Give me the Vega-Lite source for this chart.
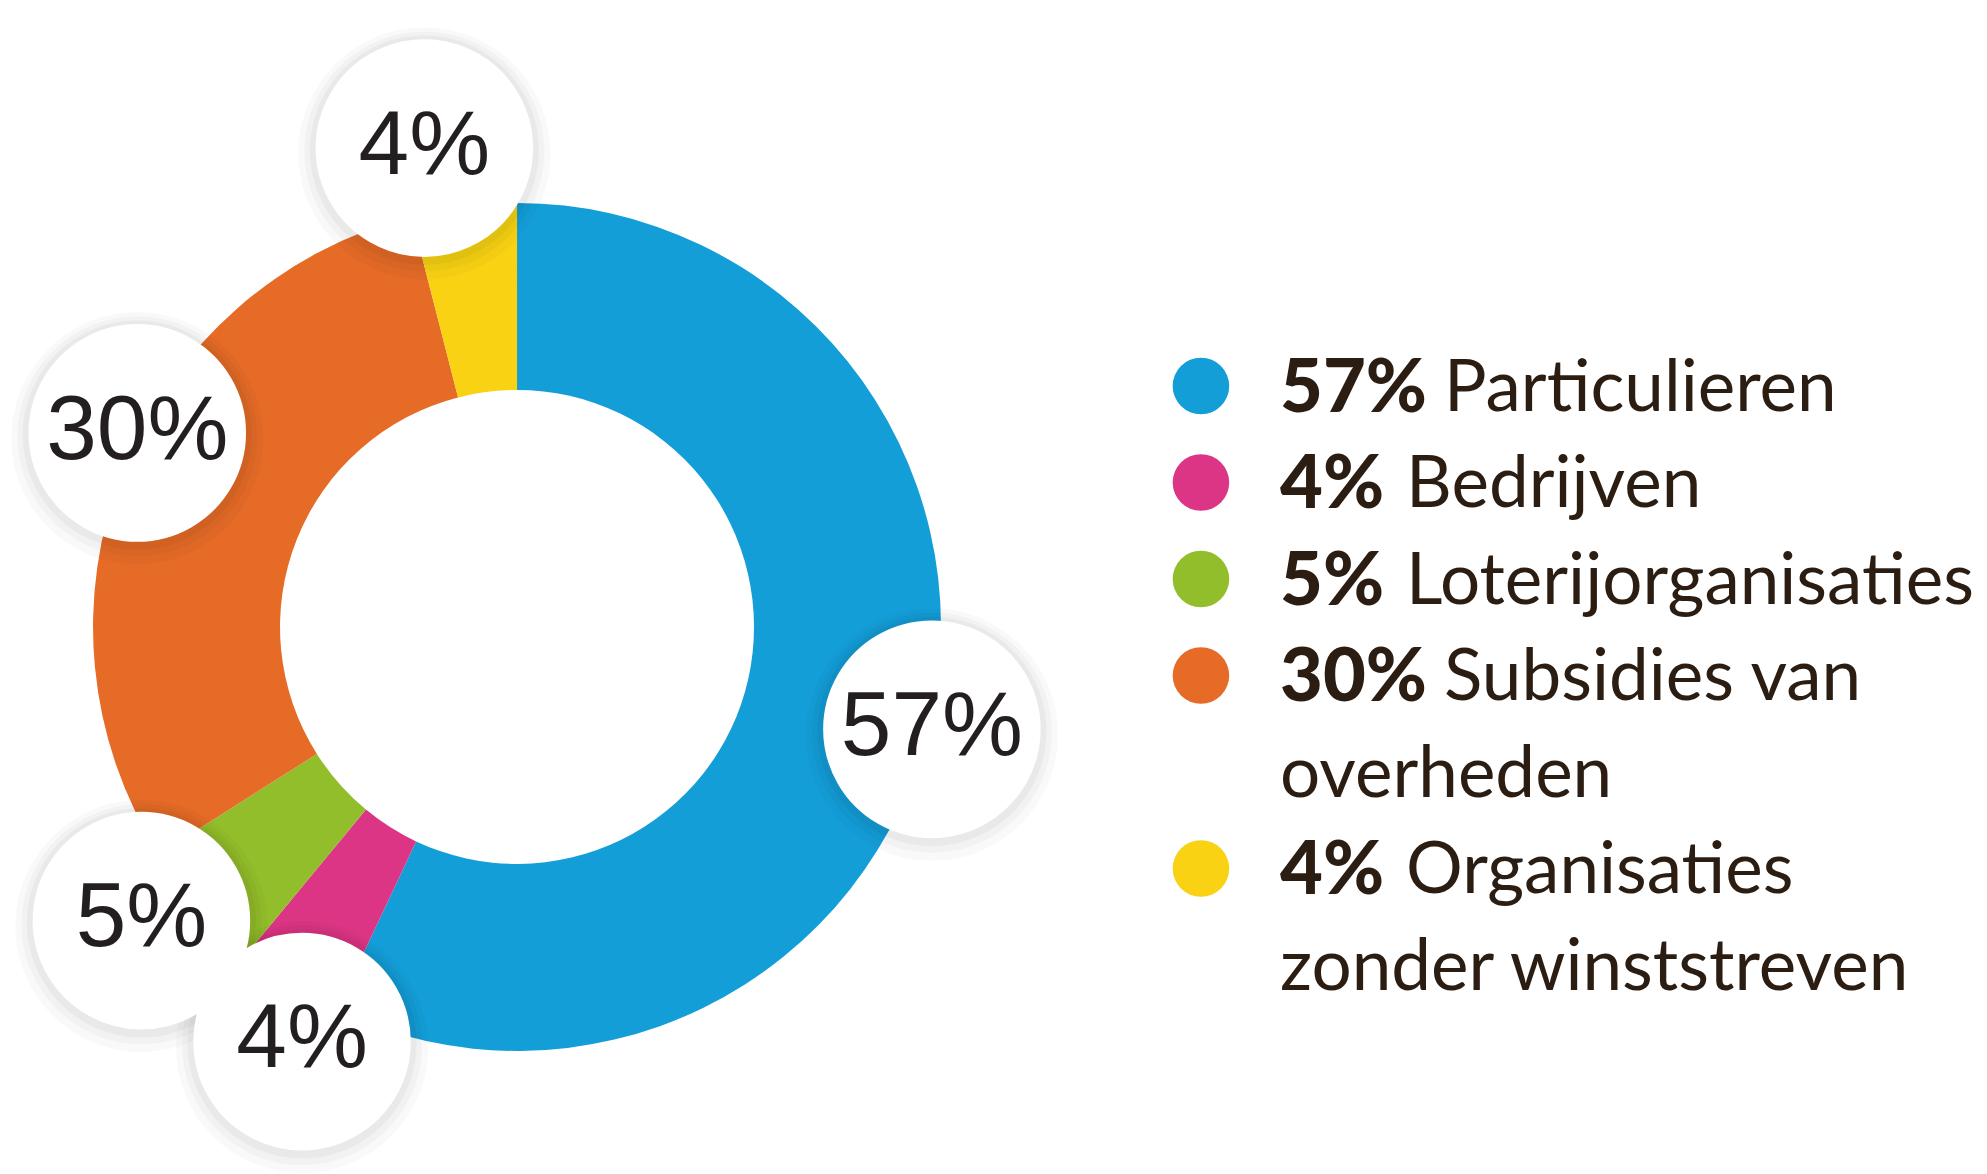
{
  "$schema": "https://vega.github.io/schema/vega-lite/v6.json",
  "background": "white",
  "autosize": {"type": "none"},
  "padding": 0,
  "width": 1987,
  "height": 1174,
  "config": {"view": {"stroke": null}},
  "datasets": {
    "slices": [
      {"order": 1, "cat": "Particulieren", "pct": 57, "label": "57%"},
      {"order": 2, "cat": "Bedrijven", "pct": 4, "label": "4%"},
      {"order": 3, "cat": "Loterijorganisaties", "pct": 5, "label": "5%"},
      {"order": 4, "cat": "Subsidies van overheden", "pct": 30, "label": "30%"},
      {"order": 5, "cat": "Organisaties zonder winststreven", "pct": 4, "label": "4%"}
    ],
    "legend": [
      {"line": 1, "bold": "57%", "rest": "Particulieren", "cat": "Particulieren"},
      {"line": 2, "bold": "4%", "rest": "Bedrijven", "cat": "Bedrijven"},
      {"line": 3, "bold": "5%", "rest": "Loterijorganisaties", "cat": "Loterijorganisaties"},
      {"line": 4, "bold": "30%", "rest": "Subsidies van", "cat": "Subsidies van overheden"},
      {"line": 5, "bold": "", "rest": "overheden", "cat": null},
      {"line": 6, "bold": "4%", "rest": "Organisaties", "cat": "Organisaties zonder winststreven"},
      {"line": 7, "bold": "", "rest": "zonder winststreven", "cat": null}
    ]
  },
  "layer": [
    {
      "data": {"name": "slices"},
      "mark": {"type": "arc", "radius": 424, "radius2": 237},
      "encoding": {
        "x": {"datum": 26.02, "type": "quantitative", "axis": null, "scale": {"domain": [0, 100], "nice": false, "zero": false}},
        "y": {"datum": 3.497, "type": "quantitative", "axis": null, "scale": {"domain": [-3.0, 9.166], "reverse": true, "nice": false, "zero": false}},
        "theta": {"field": "pct", "type": "quantitative", "stack": true},
        "order": {"field": "order", "type": "quantitative"},
        "color": {
          "field": "cat", "type": "nominal", "legend": null,
          "scale": {
            "domain": ["Particulieren", "Bedrijven", "Loterijorganisaties", "Subsidies van overheden", "Organisaties zonder winststreven"],
            "range": ["#149ed8", "#dc3585", "#93be2b", "#e66b27", "#f8d213"]
          }
        }
      }
    },
    {
      "data": {"name": "slices"},
      "mark": {"type": "text", "text": "●", "font": "DejaVu Sans", "fontSize": 330, "color": "#000000", "opacity": 0.018, "align": "center", "baseline": "middle", "dy": -7,
        "thetaOffset": {"expr": "datum.order == 1 ? 0.019 : datum.order == 2 ? -0.086 : datum.order == 3 ? 0.061 : datum.order == 4 ? 0.098 : -0.065"},
        "radiusOffset": {"expr": "datum.order == 2 ? -12 : datum.order == 5 ? 11 : 0"}},
      "encoding": {
        "x": {"datum": 26.02, "type": "quantitative"},
        "y": {"datum": 3.497, "type": "quantitative"},
        "theta": {"field": "pct", "type": "quantitative", "stack": true},
        "order": {"field": "order", "type": "quantitative"},
        "radius": {"field": "pct", "type": "quantitative", "scale": {"type": "linear", "domain": [4, 30], "range": [478, 427], "clamp": true, "zero": false, "nice": false}}
      }
    },
    {
      "data": {"name": "slices"},
      "mark": {"type": "text", "text": "●", "font": "DejaVu Sans", "fontSize": 314, "color": "#000000", "opacity": 0.025, "align": "center", "baseline": "middle", "dy": -8,
        "thetaOffset": {"expr": "datum.order == 1 ? 0.019 : datum.order == 2 ? -0.086 : datum.order == 3 ? 0.061 : datum.order == 4 ? 0.098 : -0.065"},
        "radiusOffset": {"expr": "datum.order == 2 ? -12 : datum.order == 5 ? 11 : 0"}},
      "encoding": {
        "x": {"datum": 26.02, "type": "quantitative"},
        "y": {"datum": 3.497, "type": "quantitative"},
        "theta": {"field": "pct", "type": "quantitative", "stack": true},
        "order": {"field": "order", "type": "quantitative"},
        "radius": {"field": "pct", "type": "quantitative", "scale": {"type": "linear", "domain": [4, 30], "range": [478, 427], "clamp": true, "zero": false, "nice": false}}
      }
    },
    {
      "data": {"name": "slices"},
      "mark": {"type": "text", "text": "●", "font": "DejaVu Sans", "fontSize": 300, "color": "#000000", "opacity": 0.03, "align": "center", "baseline": "middle", "dy": -9,
        "thetaOffset": {"expr": "datum.order == 1 ? 0.019 : datum.order == 2 ? -0.086 : datum.order == 3 ? 0.061 : datum.order == 4 ? 0.098 : -0.065"},
        "radiusOffset": {"expr": "datum.order == 2 ? -12 : datum.order == 5 ? 11 : 0"}},
      "encoding": {
        "x": {"datum": 26.02, "type": "quantitative"},
        "y": {"datum": 3.497, "type": "quantitative"},
        "theta": {"field": "pct", "type": "quantitative", "stack": true},
        "order": {"field": "order", "type": "quantitative"},
        "radius": {"field": "pct", "type": "quantitative", "scale": {"type": "linear", "domain": [4, 30], "range": [478, 427], "clamp": true, "zero": false, "nice": false}}
      }
    },
    {
      "data": {"name": "slices"},
      "mark": {"type": "text", "text": "●", "font": "DejaVu Sans", "fontSize": 285, "color": "#ffffff", "align": "center", "baseline": "middle", "dy": -11,
        "thetaOffset": {"expr": "datum.order == 1 ? 0.019 : datum.order == 2 ? -0.086 : datum.order == 3 ? 0.061 : datum.order == 4 ? 0.098 : -0.065"},
        "radiusOffset": {"expr": "datum.order == 2 ? -12 : datum.order == 5 ? 11 : 0"}},
      "encoding": {
        "x": {"datum": 26.02, "type": "quantitative"},
        "y": {"datum": 3.497, "type": "quantitative"},
        "theta": {"field": "pct", "type": "quantitative", "stack": true},
        "order": {"field": "order", "type": "quantitative"},
        "radius": {"field": "pct", "type": "quantitative", "scale": {"type": "linear", "domain": [4, 30], "range": [478, 427], "clamp": true, "zero": false, "nice": false}}
      }
    },
    {
      "data": {"name": "slices"},
      "mark": {"type": "text", "font": "Liberation Sans", "fontSize": 91, "color": "#231f20", "align": "center", "baseline": "middle",
        "thetaOffset": {"expr": "datum.order == 1 ? 0.019 : datum.order == 2 ? -0.086 : datum.order == 3 ? 0.061 : datum.order == 4 ? 0.098 : -0.065"},
        "radiusOffset": {"expr": "datum.order == 2 ? -12 : datum.order == 5 ? 11 : 0"}},
      "encoding": {
        "x": {"datum": 26.02, "type": "quantitative"},
        "y": {"datum": 3.497, "type": "quantitative"},
        "theta": {"field": "pct", "type": "quantitative", "stack": true},
        "order": {"field": "order", "type": "quantitative"},
        "text": {"field": "label"},
        "radius": {"field": "pct", "type": "quantitative", "scale": {"type": "linear", "domain": [4, 30], "range": [478, 427], "clamp": true, "zero": false, "nice": false}}
      }
    },
    {
      "data": {"name": "legend"},
      "transform": [{"filter": "datum.cat != null"}],
      "mark": {"type": "point", "shape": "circle", "filled": true, "size": 3200, "opacity": 1, "dy": 4},
      "encoding": {
        "x": {"datum": 60.44, "type": "quantitative"},
        "y": {"field": "line", "type": "quantitative"},
        "color": {"field": "cat", "type": "nominal", "legend": null}
      }
    },
    {
      "data": {"name": "legend"},
      "mark": {"type": "text", "font": "Lato", "fontWeight": 900, "fontSize": 74, "align": "left", "baseline": "middle", "color": "#2b1d12", "dy": 4},
      "encoding": {
        "x": {"datum": 64.42, "type": "quantitative"},
        "y": {"field": "line", "type": "quantitative"},
        "text": {"field": "bold"}
      }
    },
    {
      "data": {"name": "legend"},
      "mark": {"type": "text", "font": "Lato", "fontSize": 71, "align": "left", "baseline": "middle", "color": "#2b1d12", "dy": 4,
        "dx": {"expr": "datum.bold ? 126 + 38 * (length(datum.bold) - 2) : 0"}},
      "encoding": {
        "x": {"datum": 64.42, "type": "quantitative"},
        "y": {"field": "line", "type": "quantitative"},
        "text": {"field": "rest"}
      }
    }
  ]
}
